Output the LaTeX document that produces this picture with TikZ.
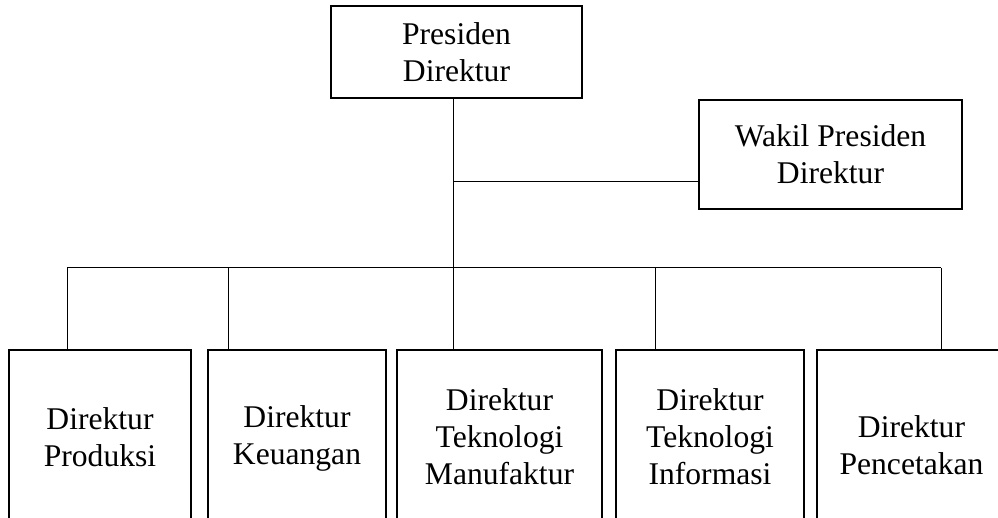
\documentclass[tikz,border=0pt]{standalone}
\usepackage{fontspec}
\setmainfont{Liberation Serif}
\begin{document}
\begin{tikzpicture}[x=1pt,y=-1pt,
  box/.style={draw, line width=2pt, inner sep=0pt, outer sep=0pt, align=center,
    font=\fontsize{31.6}{37}\selectfont},
  link/.style={line width=1pt}]
\useasboundingbox (0,0) rectangle (998,518);

% top level
\node[box, minimum width=251pt, minimum height=92pt] (pres) at (456.5,52) {Presiden\\Direktur};
\node[box, minimum width=263pt, minimum height=109pt] (wakil) at (830.5,154.5) {Wakil Presiden\\Direktur};

% directors (boxes run past the lower edge)
\node[box, minimum width=182pt, minimum height=174pt] (prod) at (100,437) {Direktur\\Produksi};
\node[box, minimum width=178pt, minimum height=176pt] (keu) at (297,438) {Direktur\\Keuangan};
\node[box, minimum width=205pt, minimum height=174pt] (manu) at (499.5,437) {Direktur\\Teknologi\\Manufaktur};
\node[box, minimum width=188pt, minimum height=174pt] (info) at (710,437) {Direktur\\Teknologi\\Informasi};
\node[box, minimum width=189pt, minimum height=190pt] (cetak) at (911.5,445) {Direktur\\Pencetakan};

% junctions
\coordinate (jw) at (453,182);
\coordinate (d1) at (67,268);
\coordinate (d2) at (228,268);
\coordinate (d3) at (453,268);
\coordinate (d4) at (655,268);
\coordinate (d5) at (941,268);

\draw[link] (pres.south -| d3) -- (d3);
\draw[link] (jw) -- (jw -| wakil.west);
\draw[link] (d1) -- (d5);
\draw[link] (d1) -- (d1 |- prod.north);
\draw[link] (d2) -- (d2 |- keu.north);
\draw[link] (d3) -- (d3 |- manu.north);
\draw[link] (d4) -- (d4 |- info.north);
\draw[link] (d5) -- (d5 |- cetak.north);
\end{tikzpicture}
\end{document}
